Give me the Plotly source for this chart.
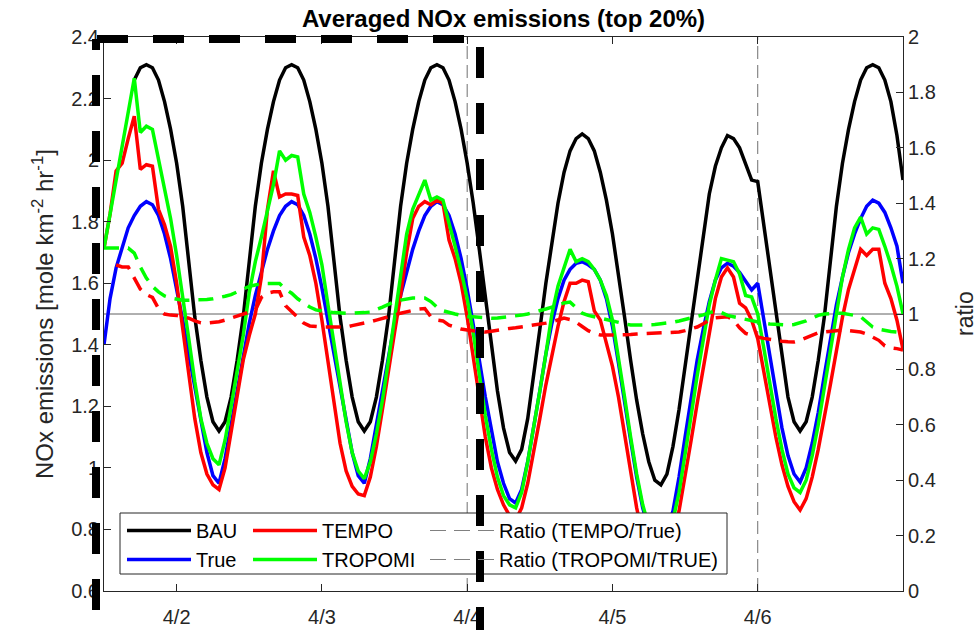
import plotly.graph_objects as go
import pandas as pd

# ---------------- data (hourly, starting 4/1 12:00) ----------------
start_time = "2020-04-01 12:00"
n_hours = 133
x_range = ["2020-04-01 12:00", "2020-04-07 00:00"]
tick_dates = ["2020-04-02", "2020-04-03", "2020-04-04", "2020-04-05", "2020-04-06"]
tick_labels = ["4/2", "4/3", "4/4", "4/5", "4/6"]
marker_dates = ["2020-04-04", "2020-04-06"]
left_ticks = [0.6, 0.8, 1.0, 1.2, 1.4, 1.6, 1.8, 2.0, 2.2, 2.4]
left_tick_labels = ["0.6", "0.8", "1", "1.2", "1.4", "1.6", "1.8", "2", "2.2", "2.4"]
right_ticks = [0, 0.2, 0.4, 0.6, 0.8, 1.0, 1.2, 1.4, 1.6, 1.8, 2.0]
right_tick_labels = ["0", "0.2", "0.4", "0.6", "0.8", "1", "1.2", "1.4", "1.6", "1.8", "2"]
ratio_ref = 1.0

bau = [None, None, None, None, None,
       2.26, 2.30, 2.31, 2.30, 2.26, 2.19, 2.10, 1.99, 1.85, 1.67, 1.49, 1.35, 1.23, 1.15, 1.12,
       1.15, 1.23, 1.35, 1.49, 1.67, 1.85, 1.99, 2.10, 2.19, 2.26, 2.30, 2.31,
       2.30, 2.26, 2.19, 2.10, 1.99, 1.85, 1.67, 1.49, 1.35, 1.23, 1.15, 1.12,
       1.15, 1.23, 1.35, 1.49, 1.67, 1.85, 1.99, 2.10, 2.19, 2.26, 2.30, 2.31,
       2.30, 2.26, 2.19, 2.10, 1.99, 1.86, 1.71, 1.55, 1.39, 1.25, 1.13, 1.05, 1.022,
       1.06, 1.16, 1.30, 1.45, 1.60, 1.74, 1.86, 1.96, 2.03, 2.07, 2.085,
       2.07, 2.03, 1.96, 1.87, 1.76, 1.63, 1.49, 1.35, 1.22, 1.11, 1.02, 0.96, 0.945,
       0.98, 1.07, 1.19, 1.33, 1.48, 1.63, 1.77, 1.89, 1.98, 2.04, 2.08,
       2.07, 2.04, 1.99, 1.935, 1.93, 1.79, 1.65, 1.50, 1.36, 1.23, 1.15, 1.12,
       1.15, 1.23, 1.35, 1.49, 1.67, 1.85, 1.99, 2.10, 2.19, 2.26, 2.30, 2.31,
       2.30, 2.26, 2.19, 2.08, 1.935]

true_em = [1.40, 1.55, 1.65, 1.72, 1.78, 1.82, 1.85, 1.865,
           1.855, 1.82, 1.76, 1.68, 1.585, 1.48, 1.37, 1.26, 1.15, 1.05, 0.975, 0.95,
           1.03, 1.14, 1.26, 1.37, 1.47, 1.56, 1.64, 1.71, 1.77, 1.82, 1.85, 1.865,
           1.855, 1.82, 1.76, 1.68, 1.585, 1.48, 1.37, 1.26, 1.15, 1.05, 0.975, 0.95,
           1.03, 1.14, 1.26, 1.37, 1.47, 1.56, 1.64, 1.71, 1.77, 1.82, 1.85, 1.865,
           1.855, 1.82, 1.76, 1.68, 1.58, 1.47, 1.35, 1.23, 1.12, 1.02, 0.95, 0.90, 0.886,
           0.93, 1.02, 1.13, 1.25, 1.37, 1.47, 1.55, 1.61, 1.645, 1.665, 1.67,
           1.66, 1.645, 1.61, 1.55, 1.46, 1.34, 1.21, 1.09, 0.97, 0.87, 0.80, 0.77, 0.76,
           0.80, 0.86, 0.97, 1.10, 1.23, 1.35, 1.45, 1.54, 1.61, 1.65, 1.665,
           1.655, 1.635, 1.605, 1.578, 1.60, 1.48, 1.36, 1.24, 1.13, 1.04, 0.98, 0.954,
           1.00, 1.08, 1.18, 1.30, 1.42, 1.53, 1.62, 1.70, 1.76, 1.81, 1.85, 1.87,
           1.86, 1.83, 1.78, 1.72, 1.60]

tempo = [1.714, 1.825, 1.965, 1.99, 2.07, 2.143, 1.97, 1.985, 1.98,
         1.84, 1.79, 1.72, 1.60, 1.46, 1.30, 1.16, 1.05, 0.98, 0.945, 0.93,
         1.00, 1.12, 1.24, 1.35, 1.43, 1.50, 1.62, 1.84, 1.965, 1.88, 1.89, 1.89, 1.885,
         1.75, 1.69, 1.60, 1.48, 1.35, 1.21, 1.08, 0.99, 0.94, 0.915, 0.91,
         0.97, 1.07, 1.19, 1.32, 1.44, 1.56, 1.70, 1.81, 1.85, 1.865, 1.855, 1.87,
         1.86, 1.74, 1.68, 1.60, 1.49, 1.36, 1.22, 1.10, 1.00, 0.93, 0.88, 0.845, 0.83,
         0.87, 0.95, 1.05, 1.16, 1.27, 1.37, 1.46, 1.54, 1.60, 1.60, 1.61, 1.605,
         1.51, 1.48, 1.41, 1.33, 1.23, 1.11, 0.99, 0.87, 0.78, 0.73, 0.71, 0.70,
         0.72, 0.78, 0.86, 0.97, 1.09, 1.21, 1.32, 1.43, 1.55, 1.62, 1.65,
         1.62, 1.535, 1.52, 1.48, 1.42, 1.31, 1.20, 1.10, 1.01, 0.94, 0.89, 0.863,
         0.90, 0.97, 1.06, 1.16, 1.27, 1.38, 1.49, 1.58, 1.65, 1.71, 1.69, 1.71,
         1.71, 1.60, 1.55, 1.48, 1.385]

tropomi = [1.714, 1.825, 1.935, 2.045, 2.155, 2.266, 2.09, 2.11, 2.10,
           2.00, 1.91, 1.81, 1.69, 1.56, 1.42, 1.28, 1.16, 1.08, 1.03, 1.01,
           1.09, 1.20, 1.31, 1.43, 1.57, 1.67, 1.75, 1.83, 1.92, 2.03, 2.00, 2.015, 2.01,
           1.89, 1.83, 1.75, 1.66, 1.53, 1.40, 1.27, 1.15, 1.05, 0.99, 0.965,
           1.02, 1.11, 1.22, 1.35, 1.49, 1.63, 1.76, 1.84, 1.885, 1.935, 1.87, 1.88,
           1.87, 1.80, 1.72, 1.64, 1.55, 1.44, 1.30, 1.17, 1.06, 0.97, 0.91, 0.88, 0.87,
           0.92, 1.02, 1.13, 1.25, 1.37, 1.50, 1.59, 1.65, 1.71, 1.67, 1.68, 1.67,
           1.645, 1.61, 1.56, 1.48, 1.36, 1.23, 1.10, 0.98, 0.88, 0.81, 0.78, 0.77,
           0.78, 0.83, 0.92, 1.04, 1.17, 1.30, 1.42, 1.53, 1.61, 1.68, 1.675,
           1.67, 1.63, 1.56, 1.555, 1.50, 1.39, 1.27, 1.16, 1.06, 0.98, 0.935, 0.92,
           0.96, 1.04, 1.14, 1.26, 1.39, 1.51, 1.62, 1.71, 1.78, 1.815, 1.76, 1.78,
           1.775, 1.72, 1.66, 1.59, 1.50]

ratio_tempo = [None, None, 1.177, 1.17, 1.17, 1.13, 1.09, 1.07, 1.06, 1.02,
               1.0, 0.996, 0.995, 0.99, 0.985, 0.975, 0.968, 0.967, 0.968, 0.972,
               0.978, 0.985, 0.993, 1.0, 1.008, 1.014, 1.06, 1.075, 1.08, 1.08,
               1.03, 1.01, 0.99, 0.967, 0.957, 0.954, 0.953, 0.953, 0.953, 0.953,
               0.953, 0.958, 0.962, 0.967, 0.972, 0.978, 0.983, 0.99, 0.996, 1.003,
               1.008, 1.014, 1.018, 1.02, 0.99, 0.978, 0.975, 0.96, 0.952, 0.946,
               0.942, 0.94, 0.937, 0.935, 0.938, 0.942, 0.945, 0.948, 0.95, 0.953,
               0.957, 0.96, 0.964, 0.967, 0.972, 0.978, 0.985, 0.98, 0.97, 0.955,
               0.94, 0.93, 0.924, 0.924, 0.924, 0.924, 0.925, 0.926, 0.928, 0.929,
               0.93, 0.93, 0.931, 0.932, 0.934, 0.935, 0.94, 0.947, 0.953, 0.965,
               0.978, 0.986, 0.988, 0.99, 0.978, 0.95, 0.93, 0.922, 0.917, 0.912,
               0.908, 0.905, 0.902, 0.90, 0.899, 0.905, 0.915, 0.925, 0.932, 0.935,
               0.938, 0.94, 0.942, 0.94, 0.937, 0.935, 0.928, 0.917, 0.905, 0.885,
               0.878, 0.875, 0.87]

ratio_tropomi = [1.238, 1.238, 1.238, 1.238, 1.238, 1.22, 1.17, 1.13, 1.10, 1.08,
                 1.065, 1.058, 1.054, 1.05, 1.05, 1.05, 1.05, 1.052, 1.055, 1.058,
                 1.064, 1.07, 1.08, 1.09, 1.10, 1.105, 1.11, 1.11, 1.11, 1.11,
                 1.09, 1.075, 1.055, 1.04, 1.025, 1.015, 1.01, 1.007, 1.005, 1.003,
                 1.003, 1.003, 1.003, 1.005, 1.007, 1.015, 1.025, 1.035, 1.045, 1.05,
                 1.055, 1.058, 1.058, 1.058, 1.045, 1.025, 1.012, 1.005, 1.0, 0.995,
                 0.99, 0.99, 0.988, 0.986, 0.985, 0.986, 0.988, 0.99, 0.993, 0.996,
                 1.0, 1.005, 1.01, 1.018, 1.025, 1.033, 1.04, 1.043, 1.025, 1.003,
                 0.995, 0.99, 0.985, 0.98, 0.976, 0.97, 0.965, 0.96, 0.96, 0.96,
                 0.96, 0.962, 0.965, 0.967, 0.97, 0.975, 0.98, 0.985, 0.99, 0.997,
                 1.005, 1.01, 1.005, 0.995, 0.99, 0.985, 0.98, 0.975, 0.97, 0.967,
                 0.964, 0.962, 0.96, 0.96, 0.962, 0.967, 0.975, 0.985, 0.995, 1.0,
                 1.003, 1.003, 1.003, 1.0, 0.995, 0.99, 0.97, 0.953, 0.945, 0.94,
                 0.937, 0.935, 0.935]

for arr in (bau, true_em, tempo, tropomi, ratio_tempo, ratio_tropomi):
    assert len(arr) == n_hours

times = pd.date_range(start_time, periods=n_hours, freq="h")

# ---------------- layout helpers (pixel -> paper) ----------------
W, H = 980, 630
L, R, T, B = 104, 903, 37, 591


def px_x(p):
    return (p - L) / (R - L)


def px_y(p):
    return (B - p) / (B - T)


FONT = "Liberation Sans, Arial, sans-serif"
AXC = "#262626"
LW = 3.5

fig = go.Figure()

fig.add_trace(go.Scatter(x=times, y=bau, name="BAU", mode="lines",
                         line=dict(color="#000000", width=LW), legend="legend"))
fig.add_trace(go.Scatter(x=times, y=true_em, name="True", mode="lines",
                         line=dict(color="#0000FF", width=LW), legend="legend"))
fig.add_trace(go.Scatter(x=times, y=tempo, name="TEMPO", mode="lines",
                         line=dict(color="#FF0000", width=LW), legend="legend2"))
fig.add_trace(go.Scatter(x=times, y=tropomi, name="TROPOMI", mode="lines",
                         line=dict(color="#00FF00", width=LW), legend="legend2"))
fig.add_trace(go.Scatter(x=times, y=ratio_tempo, name="Ratio (TEMPO/True)", mode="lines",
                         line=dict(color="#FF0000", width=LW, dash="15px,9px"),
                         yaxis="y2", showlegend=False))
fig.add_trace(go.Scatter(x=times, y=ratio_tropomi, name="Ratio (TROPOMI/TRUE)", mode="lines",
                         line=dict(color="#00FF00", width=LW, dash="15px,9px"),
                         yaxis="y2", showlegend=False))
# legend entries for the ratio lines (drawn as thin grey dashes, as in the original legend)
for nm in ["Ratio (TEMPO/True)", "Ratio (TROPOMI/TRUE)"]:
    fig.add_trace(go.Scatter(x=[None], y=[None], name=nm, mode="lines",
                             line=dict(color="#808080", width=1, dash="16px,8px"),
                             yaxis="y2", legend="legend3"))

shapes = []
# reference ratio line and day markers (below traces)
shapes.append(dict(type="line", xref="paper", x0=0, x1=1, yref="y2", y0=ratio_ref, y1=ratio_ref,
                   line=dict(color="#606060", width=1), layer="below"))
for d in marker_dates:
    shapes.append(dict(type="line", xref="x", x0=d, x1=d, yref="paper", y0=0, y1=1,
                       line=dict(color="#707070", width=1, dash="13px,6px"), layer="below"))
# legend box
shapes.append(dict(type="rect", xref="paper", yref="paper",
                   x0=px_x(120), x1=px_x(727), y0=px_y(574), y1=px_y(513),
                   fillcolor="white", line=dict(color=AXC, width=1), layer="above"))
# thick dashed frame
thick = dict(color="#000000", width=8, dash="31px,25px")
shapes.append(dict(type="line", xref="paper", yref="paper",
                   x0=px_x(96), x1=px_x(96), y0=px_y(666), y1=px_y(39), line=thick, layer="above"))
shapes.append(dict(type="line", xref="paper", yref="paper",
                   x0=px_x(97), x1=px_x(480), y0=px_y(39), y1=px_y(39), line=thick, layer="above"))
shapes.append(dict(type="line", xref="paper", yref="paper",
                   x0=px_x(480), x1=px_x(480), y0=px_y(47), y1=px_y(700), line=thick, layer="above"))

legend_common = dict(bgcolor="rgba(0,0,0,0)", borderwidth=0, orientation="v",
                     font=dict(family=FONT, size=20, color="#000000"),
                     itemwidth=64, xanchor="left", yanchor="top", y=px_y(511))

fig.update_layout(
    width=W, height=H,
    margin=dict(l=L, r=W - R, t=T, b=H - B, pad=0, autoexpand=False),
    paper_bgcolor="white", plot_bgcolor="white",
    font=dict(family=FONT, size=20, color=AXC),
    title=dict(text="<b>Averaged NOx emissions (top 20%)</b>", x=0.5, xref="paper",
               y=1 - 19 / H, yref="container", xanchor="center", yanchor="middle",
               font=dict(family=FONT, size=24, color="#000000")),
    xaxis=dict(type="date", range=x_range, tickvals=tick_dates, ticktext=tick_labels,
               ticks="inside", ticklen=7, tickcolor=AXC, showline=True, linecolor=AXC,
               linewidth=1, mirror="ticks", showgrid=False, zeroline=False,
               ticklabelstandoff=8,
               tickfont=dict(family=FONT, size=20, color=AXC)),
    yaxis=dict(range=[0.6, 2.4], tickvals=left_ticks, ticktext=left_tick_labels,
               ticks="inside", ticklen=7, tickcolor=AXC, showline=True, linecolor=AXC,
               linewidth=1, showgrid=False, zeroline=False,
               tickfont=dict(family=FONT, size=20, color=AXC)),
    yaxis2=dict(range=[0, 2], tickvals=right_ticks, ticktext=right_tick_labels,
                overlaying="y", side="right", ticks="inside", ticklen=7, tickcolor=AXC,
                showline=True, linecolor=AXC, linewidth=1, showgrid=False, zeroline=False,
                tickfont=dict(family=FONT, size=20, color=AXC)),
    legend=dict(legend_common, x=px_x(122)),
    legend2=dict(legend_common, x=px_x(248)),
    legend3=dict(legend_common, x=px_x(425)),
    shapes=shapes,
    annotations=[
        dict(text="NOx emissions [mole km<sup>-2</sup> hr<sup>-1</sup>]", xref="paper", yref="paper",
             x=px_x(43), y=0.5, textangle=-90, showarrow=False, xanchor="center", yanchor="middle",
             font=dict(family=FONT, size=24, color=AXC)),
        dict(text="ratio", xref="paper", yref="paper", x=px_x(965), y=0.5, textangle=-90,
             showarrow=False, xanchor="center", yanchor="middle", borderpad=0,
             font=dict(family=FONT, size=23, color=AXC)),
    ],
    showlegend=True,
)

fig.write_html("out.html")
